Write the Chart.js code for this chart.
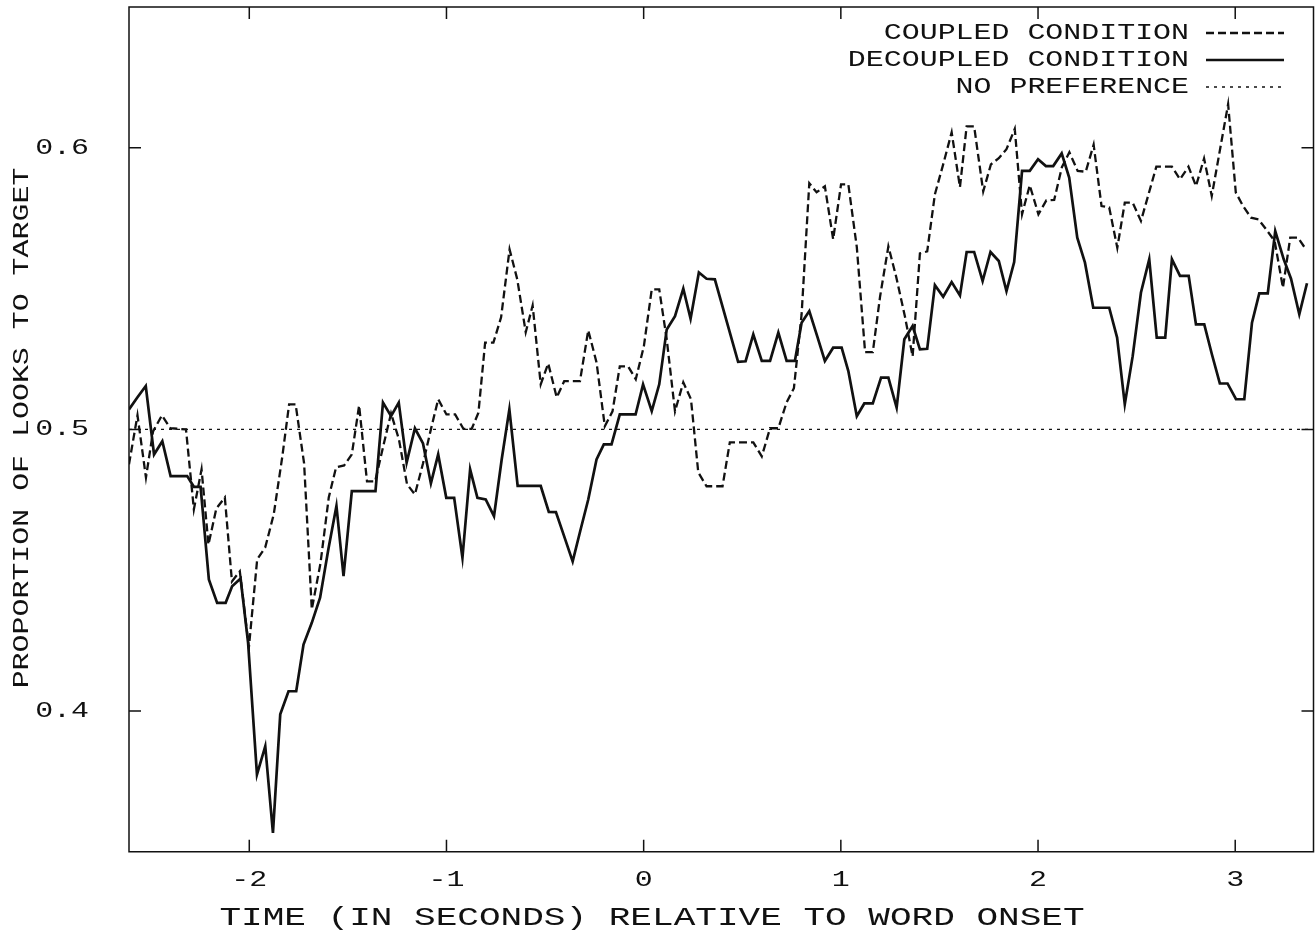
<!DOCTYPE html>
<html>
<head>
<meta charset="utf-8">
<title>Proportion of looks to target</title>
<script src="https://cdn.jsdelivr.net/npm/chart.js@4.4.1/dist/chart.umd.min.js"></script>
<style>
  html, body { margin: 0; padding: 0; background: #fff; }
  #wrap { position: relative; width: 1316px; height: 933px; }
</style>
</head>
<body>
<div id="wrap"><canvas id="chart"></canvas></div>
<script>
// Time (s) relative to word onset and proportion of looks to target
const decoupledTime = [
  -2.610, -2.567, -2.525, -2.483, -2.441, -2.399, -2.357, -2.315, -2.281, -2.247,
  -2.205, -2.163, -2.120, -2.087, -2.044, -2.006, -1.961, -1.919, -1.880, -1.843,
  -1.801, -1.762, -1.725, -1.683, -1.641, -1.599, -1.558, -1.522, -1.480, -1.443,
  -1.403, -1.360, -1.322, -1.281, -1.242, -1.202, -1.160, -1.119, -1.079, -1.042,
  -1.001, -0.961, -0.919, -0.880, -0.843, -0.801, -0.759, -0.720, -0.681, -0.639,
  -0.602, -0.564, -0.522, -0.481, -0.445, -0.403, -0.360, -0.321, -0.281, -0.239,
  -0.202, -0.163, -0.121, -0.080, -0.041, -0.003, 0.041, 0.079, 0.117, 0.159,
  0.201, 0.238, 0.280, 0.319, 0.361, 0.479, 0.517, 0.556, 0.599, 0.641,
  0.683, 0.725, 0.767, 0.801, 0.840, 0.880, 0.919, 0.961, 1.004, 1.038,
  1.081, 1.119, 1.162, 1.204, 1.241, 1.283, 1.322, 1.364, 1.401, 1.438,
  1.477, 1.519, 1.562, 1.604, 1.638, 1.676, 1.719, 1.759, 1.801, 1.840,
  1.879, 1.919, 1.958, 2.000, 2.040, 2.077, 2.120, 2.158, 2.199, 2.238,
  2.280, 2.322, 2.361, 2.401, 2.440, 2.480, 2.522, 2.564, 2.602, 2.645,
  2.679, 2.720, 2.764, 2.801, 2.843, 2.882, 2.922, 2.961, 3.004, 3.046,
  3.085, 3.122, 3.165, 3.203, 3.246, 3.283, 3.325, 3.364
];
const decoupledValue = [
  0.5071, 0.5114, 0.5154, 0.4911, 0.4958, 0.4834, 0.4834, 0.4834, 0.4796, 0.4796,
  0.4467, 0.4384, 0.4384, 0.4443, 0.4470, 0.4242, 0.3774, 0.3875, 0.3567, 0.3988,
  0.4070, 0.4070, 0.4236, 0.4313, 0.4402, 0.4574, 0.4728, 0.4479, 0.4781, 0.4781,
  0.4781, 0.4781, 0.5095, 0.5047, 0.5095, 0.4882, 0.5004, 0.4950, 0.4808, 0.4911,
  0.4757, 0.4757, 0.4544, 0.4858, 0.4757, 0.4751, 0.4692, 0.4893, 0.5071, 0.4799,
  0.4799, 0.4799, 0.4799, 0.4707, 0.4706, 0.4620, 0.4531, 0.4641, 0.4751, 0.4893,
  0.4947, 0.4947, 0.5053, 0.5053, 0.5053, 0.5160, 0.5065, 0.5160, 0.5355, 0.5402,
  0.5500, 0.5393, 0.5557, 0.5535, 0.5533, 0.5240, 0.5242, 0.5337, 0.5243, 0.5243,
  0.5344, 0.5243, 0.5243, 0.5379, 0.5420, 0.5331, 0.5243, 0.5290, 0.5290, 0.5207,
  0.5047, 0.5092, 0.5092, 0.5184, 0.5184, 0.5077, 0.5320, 0.5367, 0.5284, 0.5286,
  0.5512, 0.5471, 0.5523, 0.5476, 0.5630, 0.5630, 0.5527, 0.5630, 0.5598, 0.5491,
  0.5594, 0.5918, 0.5918, 0.5959, 0.5935, 0.5935, 0.5980, 0.5894, 0.5681, 0.5592,
  0.5432, 0.5432, 0.5432, 0.5326, 0.5089, 0.5260, 0.5486, 0.5604, 0.5326, 0.5326,
  0.5604, 0.5545, 0.5545, 0.5373, 0.5373, 0.5266, 0.5163, 0.5163, 0.5107, 0.5107,
  0.5379, 0.5483, 0.5483, 0.5704, 0.5604, 0.5535, 0.5409, 0.5519
];
const coupledTime = [
  -2.610, -2.567, -2.524, -2.488, -2.443, -2.400, -2.321, -2.281, -2.242, -2.207,
  -2.167, -2.124, -2.088, -2.048, -2.002, -1.960, -1.919, -1.876, -1.833, -1.798,
  -1.765, -1.722, -1.683, -1.639, -1.597, -1.560, -1.519, -1.480, -1.443, -1.403,
  -1.362, -1.322, -1.281, -1.241, -1.200, -1.160, -1.119, -1.079, -1.042, -1.000,
  -0.956, -0.914, -0.872, -0.838, -0.804, -0.762, -0.723, -0.680, -0.641, -0.598,
  -0.563, -0.522, -0.484, -0.441, -0.403, -0.360, -0.323, -0.281, -0.239, -0.197,
  -0.158, -0.121, -0.079, -0.040, 0.001, 0.041, 0.079, 0.117, 0.159, 0.201,
  0.240, 0.277, 0.319, 0.361, 0.400, 0.437, 0.480, 0.523, 0.556, 0.599,
  0.641, 0.683, 0.725, 0.762, 0.801, 0.840, 0.877, 0.919, 0.961, 1.001,
  1.038, 1.081, 1.123, 1.162, 1.199, 1.241, 1.280, 1.325, 1.364, 1.401,
  1.438, 1.477, 1.519, 1.562, 1.604, 1.638, 1.676, 1.722, 1.761, 1.801,
  1.840, 1.882, 1.919, 1.958, 2.002, 2.042, 2.082, 2.121, 2.159, 2.201,
  2.242, 2.282, 2.322, 2.361, 2.402, 2.440, 2.480, 2.522, 2.600, 2.642,
  2.679, 2.720, 2.763, 2.801, 2.842, 2.881, 2.964, 3.003, 3.040, 3.080,
  3.118, 3.157, 3.200, 3.242, 3.279, 3.318, 3.359
];
const coupledValue = [
  0.4876, 0.5050, 0.4829, 0.4993, 0.5050, 0.5004, 0.5000, 0.4716, 0.4858, 0.4591,
  0.4719, 0.4758, 0.4460, 0.4496, 0.4226, 0.4538, 0.4581, 0.4698, 0.4901, 0.5089,
  0.5089, 0.4879, 0.4361, 0.4524, 0.4758, 0.4865, 0.4872, 0.4911, 0.5085, 0.4815,
  0.4815, 0.4936, 0.5057, 0.4964, 0.4805, 0.4769, 0.4879, 0.5000, 0.5107, 0.5053,
  0.5053, 0.5002, 0.5002, 0.5059, 0.5308, 0.5308, 0.5398, 0.5639, 0.5533, 0.5345,
  0.5440, 0.5160, 0.5234, 0.5114, 0.5171, 0.5171, 0.5171, 0.5352, 0.5238, 0.5011,
  0.5064, 0.5224, 0.5224, 0.5178, 0.5295, 0.5497, 0.5497, 0.5320, 0.5064, 0.5167,
  0.5107, 0.4847, 0.4798, 0.4798, 0.4798, 0.4954, 0.4954, 0.4954, 0.4954, 0.4904,
  0.5004, 0.5004, 0.5096, 0.5146, 0.5409, 0.5874, 0.5842, 0.5863, 0.5675, 0.5870,
  0.5870, 0.5647, 0.5274, 0.5274, 0.5472, 0.5650, 0.5544, 0.5401, 0.5259, 0.5625,
  0.5632, 0.5835, 0.5941, 0.6055, 0.5860, 0.6076, 0.6076, 0.5845, 0.5941, 0.5963,
  0.5995, 0.6067, 0.5764, 0.5867, 0.5764, 0.5813, 0.5815, 0.5931, 0.5984, 0.5918,
  0.5915, 0.6011, 0.5793, 0.5788, 0.5645, 0.5805, 0.5805, 0.5740, 0.5933, 0.5933,
  0.5933, 0.5888, 0.5933, 0.5864, 0.5962, 0.5829, 0.6155, 0.5841, 0.5793, 0.5752,
  0.5746, 0.5710, 0.5669, 0.5503, 0.5681, 0.5681, 0.5639
];
const noPreferenceTime = [-2.61, 3.397];
const noPreferenceValue = [0.5, 0.5];

const xTicks = [-2, -1, 0, 1, 2, 3];
const yTicks = [0.4, 0.5, 0.6];
const xTickLabels = ['-2', '-1', '0', '1', '2', '3'];
const yTickLabels = ['0.4', '0.5', '0.6'];

const seriesNames = ['COUPLED CONDITION', 'DECOUPLED CONDITION', 'NO PREFERENCE'];
const xTitle = 'TIME (IN SECONDS) RELATIVE TO WORD ONSET';
const yTitle = 'PROPORTION OF LOOKS TO TARGET';

const toPoints = (xs, ys) => xs.map((x, i) => ({ x: x, y: ys[i] }));

// Line styles (gnuplot-like): dashed, solid, fine dotted
const INK = '#111';
const STYLES = [
  { width: 2.3, dash: [8, 4] },
  { width: 2.7, dash: [] },
  { width: 1.3, dash: [3, 5] }
];

const FONT = '"Liberation Mono", "DejaVu Sans Mono", monospace';
const STRETCH = 1.36;

// Draws a widened monospace string (optionally rotated)
function wideText(ctx, text, x, y, size, align, rot) {
  ctx.save();
  ctx.translate(x, y);
  if (rot) ctx.rotate(rot);
  ctx.scale(STRETCH, 1);
  ctx.font = size + 'px ' + FONT;
  ctx.fillStyle = INK;
  ctx.textAlign = align;
  ctx.textBaseline = 'middle';
  ctx.fillText(text, 0, 0);
  ctx.restore();
}

const framePlugin = {
  id: 'frame',
  afterDatasetsDraw(chart) {
    const ctx = chart.ctx;
    const a = chart.chartArea;
    const xs = chart.scales.x, ys = chart.scales.y;
    const TL = 12;
    ctx.save();
    ctx.strokeStyle = INK;
    ctx.lineWidth = 1.5;
    ctx.setLineDash([]);
    ctx.strokeRect(a.left, a.top, a.right - a.left, a.bottom - a.top);
    ctx.beginPath();
    xs.ticks.forEach(t => {
      const px = xs.getPixelForValue(t.value);
      ctx.moveTo(px, a.bottom); ctx.lineTo(px, a.bottom - TL);
      ctx.moveTo(px, a.top); ctx.lineTo(px, a.top + TL);
    });
    ys.ticks.forEach(t => {
      const py = ys.getPixelForValue(t.value);
      ctx.moveTo(a.left, py); ctx.lineTo(a.left + TL, py);
      ctx.moveTo(a.right, py); ctx.lineTo(a.right - TL, py);
    });
    ctx.stroke();
    ctx.restore();

    // tick labels
    xs.ticks.forEach((t, i) => {
      wideText(ctx, xTickLabels[i], xs.getPixelForValue(t.value), 880, 22, 'center');
    });
    ys.ticks.forEach((t, i) => {
      wideText(ctx, yTickLabels[i], 89, ys.getPixelForValue(t.value), 22, 'right');
    });

    // axis titles
    wideText(ctx, xTitle, 652, 918, 26.5, 'center');
    wideText(ctx, yTitle, 22, 428, 22, 'center', -Math.PI / 2);

    // key, top right
    const rows = [33, 60, 87];
    seriesNames.forEach((name, i) => {
      wideText(ctx, name, 1189, rows[i], 22, 'right');
      const st = STYLES[i];
      ctx.save();
      ctx.strokeStyle = INK;
      ctx.lineWidth = st.width;
      ctx.setLineDash(st.dash);
      ctx.beginPath();
      ctx.moveTo(1206, rows[i]);
      ctx.lineTo(1284, rows[i]);
      ctx.stroke();
      ctx.restore();
    });
  }
};

const mkSet = (label, pts, st) => ({
  label: label,
  data: pts,
  borderColor: INK,
  borderWidth: st.width,
  borderDash: st.dash,
  pointRadius: 0,
  pointHoverRadius: 0,
  tension: 0,
  fill: false,
  borderJoinStyle: 'miter'
});

new Chart(document.getElementById('chart'), {
  type: 'line',
  data: {
    datasets: [
      mkSet(seriesNames[2], toPoints(noPreferenceTime, noPreferenceValue), STYLES[2]),
      mkSet(seriesNames[0], toPoints(coupledTime, coupledValue), STYLES[0]),
      mkSet(seriesNames[1], toPoints(decoupledTime, decoupledValue), STYLES[1])
    ]
  },
  options: {
    responsive: true,
    maintainAspectRatio: false,
    animation: false,
    events: [],
    layout: { padding: { left: 0, top: 7, right: 2.5, bottom: 0 } },
    plugins: { legend: { display: false }, tooltip: { enabled: false }, title: { display: false } },
    scales: {
      x: {
        type: 'linear',
        min: -2.61,
        max: 3.397,
        grid: { display: false },
        border: { display: false },
        ticks: { display: false },
        afterBuildTicks: s => { s.ticks = xTicks.map(v => ({ value: v })); },
        afterFit: s => { s.height = 81.25; }
      },
      y: {
        type: 'linear',
        min: 0.35,
        max: 0.65,
        grid: { display: false },
        border: { display: false },
        ticks: { display: false },
        afterBuildTicks: s => { s.ticks = yTicks.map(v => ({ value: v })); },
        afterFit: s => { s.width = 129; }
      }
    }
  },
  plugins: [framePlugin]
});
</script>
</body>
</html>
